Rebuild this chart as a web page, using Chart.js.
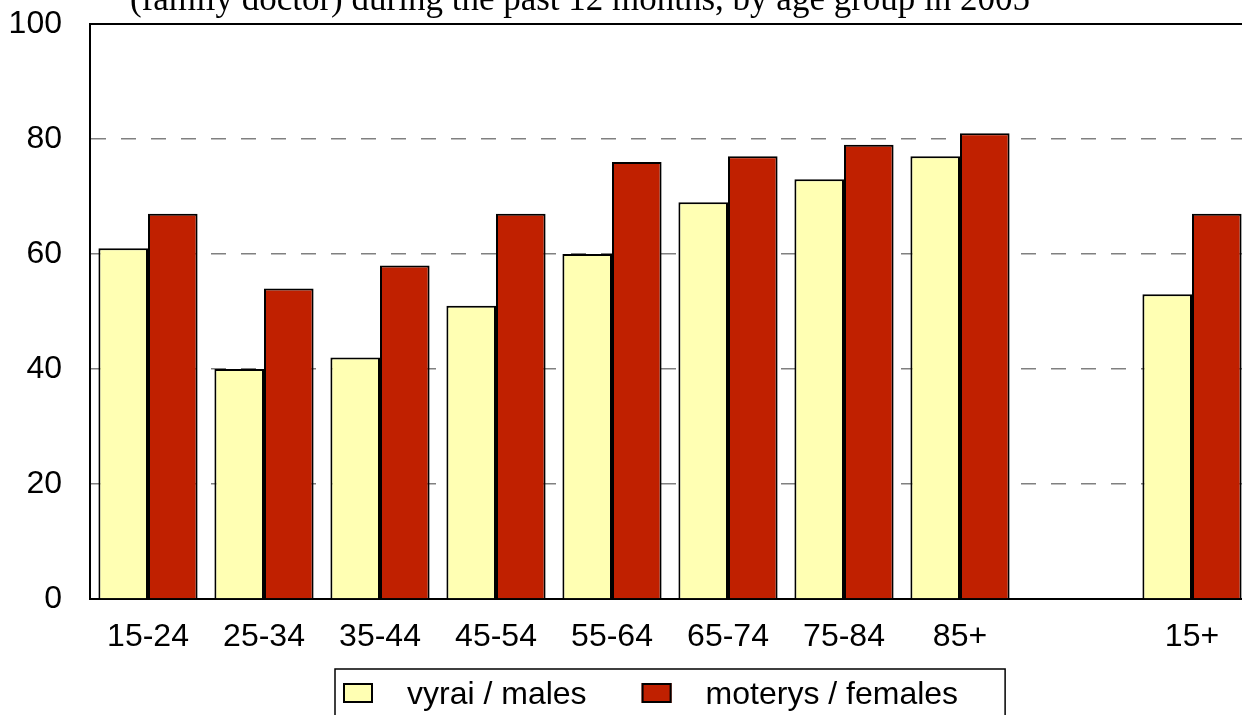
<!DOCTYPE html>
<html>
<head>
<meta charset="utf-8">
<script src="https://cdn.jsdelivr.net/npm/chart.js@4.4.0/dist/chart.umd.min.js"></script>
<style>
html, body { margin: 0; padding: 0; background: #fff; overflow: hidden; width: 1242px; height: 715px; }
#wrap { position: absolute; left: 0; top: -30px; width: 1250px; height: 775px; }
</style>
</head>
<body>
<div id="wrap"><canvas id="chart"></canvas></div>
<script>
const titleText = '(family doctor) during the past 12 months, by age group in 2005';
const ageGroups = ['15-24', '25-34', '35-44', '45-54', '55-64', '65-74', '75-84', '85+', '', '15+'];
const males = [61, 40, 42, 51, 60, 69, 73, 77, null, 53];
const females = [67, 54, 58, 67, 76, 77, 79, 81, null, 67];
const yMin = 0, yMax = 100, yStep = 20;

const labelFont = '32px "Liberation Sans", Arial, sans-serif';

// top frame line, boxed legend under the axis and the (cut off) title
const extras = {
    id: 'extras',
    afterDraw(chart) {
        const ctx = chart.ctx;
        const area = chart.chartArea;
        ctx.save();
        ctx.strokeStyle = '#000';
        ctx.lineWidth = 2;
        ctx.beginPath();
        ctx.moveTo(area.left - 1, area.top);
        ctx.lineTo(area.right, area.top);
        ctx.stroke();

        // legend
        ctx.font = labelFont;
        ctx.textBaseline = 'middle';
        ctx.textAlign = 'left';
        const top = area.bottom + 70;
        let x = 343;
        let textEnd = x;
        chart.data.datasets.forEach(ds => {
            ctx.fillStyle = ds.backgroundColor;
            ctx.fillRect(x, top + 14, 30, 20);
            ctx.lineWidth = 2;
            ctx.strokeStyle = '#000';
            ctx.strokeRect(x + 1, top + 15, 28, 18);
            ctx.fillStyle = '#000';
            ctx.fillText(ds.label, x + 64, top + 26);
            textEnd = x + 64 + ctx.measureText(ds.label).width;
            x = textEnd + 55;
        });
        ctx.lineWidth = 1.5;
        ctx.strokeRect(335, top, textEnd + 47 - 335, 80);

        ctx.fillStyle = '#000';
        ctx.font = '35px "Liberation Serif", "Times New Roman", serif';
        ctx.textAlign = 'center';
        ctx.textBaseline = 'alphabetic';
        ctx.fillText(titleText, 580, 40);
        ctx.restore();
    }
};

Chart.defaults.font.family = '"Liberation Sans", Arial, sans-serif';
Chart.defaults.font.size = 32;
Chart.defaults.color = '#000';

const ctx = document.getElementById('chart').getContext('2d');
new Chart(ctx, {
    type: 'bar',
    data: {
        labels: ageGroups,
        datasets: [{
            label: 'vyrai / males',
            data: males,
            backgroundColor: '#FFFFB3',
            borderColor: '#000',
            borderWidth: 2
        }, {
            label: 'moterys / females',
            data: females,
            backgroundColor: '#C02000',
            borderColor: '#000',
            borderWidth: 2
        }]
    },
    options: {
        responsive: true,
        maintainAspectRatio: false,
        devicePixelRatio: 1,
        animation: false,
        layout: { padding: { top: 54, right: 0, left: 0, bottom: 0 } },
        datasets: {
            bar: { barPercentage: 1.0, categoryPercentage: 0.855 }
        },
        plugins: {
            title: { display: false },
            tooltip: { enabled: false },
            legend: { display: false }
        },
        scales: {
            x: {
                grid: { display: false, drawTicks: false },
                border: { display: true, color: '#000', width: 2 },
                ticks: { padding: 19, autoSkip: false, maxRotation: 0 },
                afterFit: scale => { scale.height = 146; }
            },
            y: {
                min: yMin,
                max: yMax,
                ticks: { stepSize: yStep, padding: 28 },
                grid: {
                    drawTicks: false,
                    lineWidth: 1.5,
                    color: c => (c.tick && (c.tick.value === yMin || c.tick.value === yMax)) ? 'rgba(0,0,0,0)' : '#808080'
                },
                border: { display: true, color: '#000', width: 2, dash: [15, 15] },
                afterFit: scale => { scale.width = 90; }
            }
        }
    },
    plugins: [extras]
});
</script>
</body>
</html>
